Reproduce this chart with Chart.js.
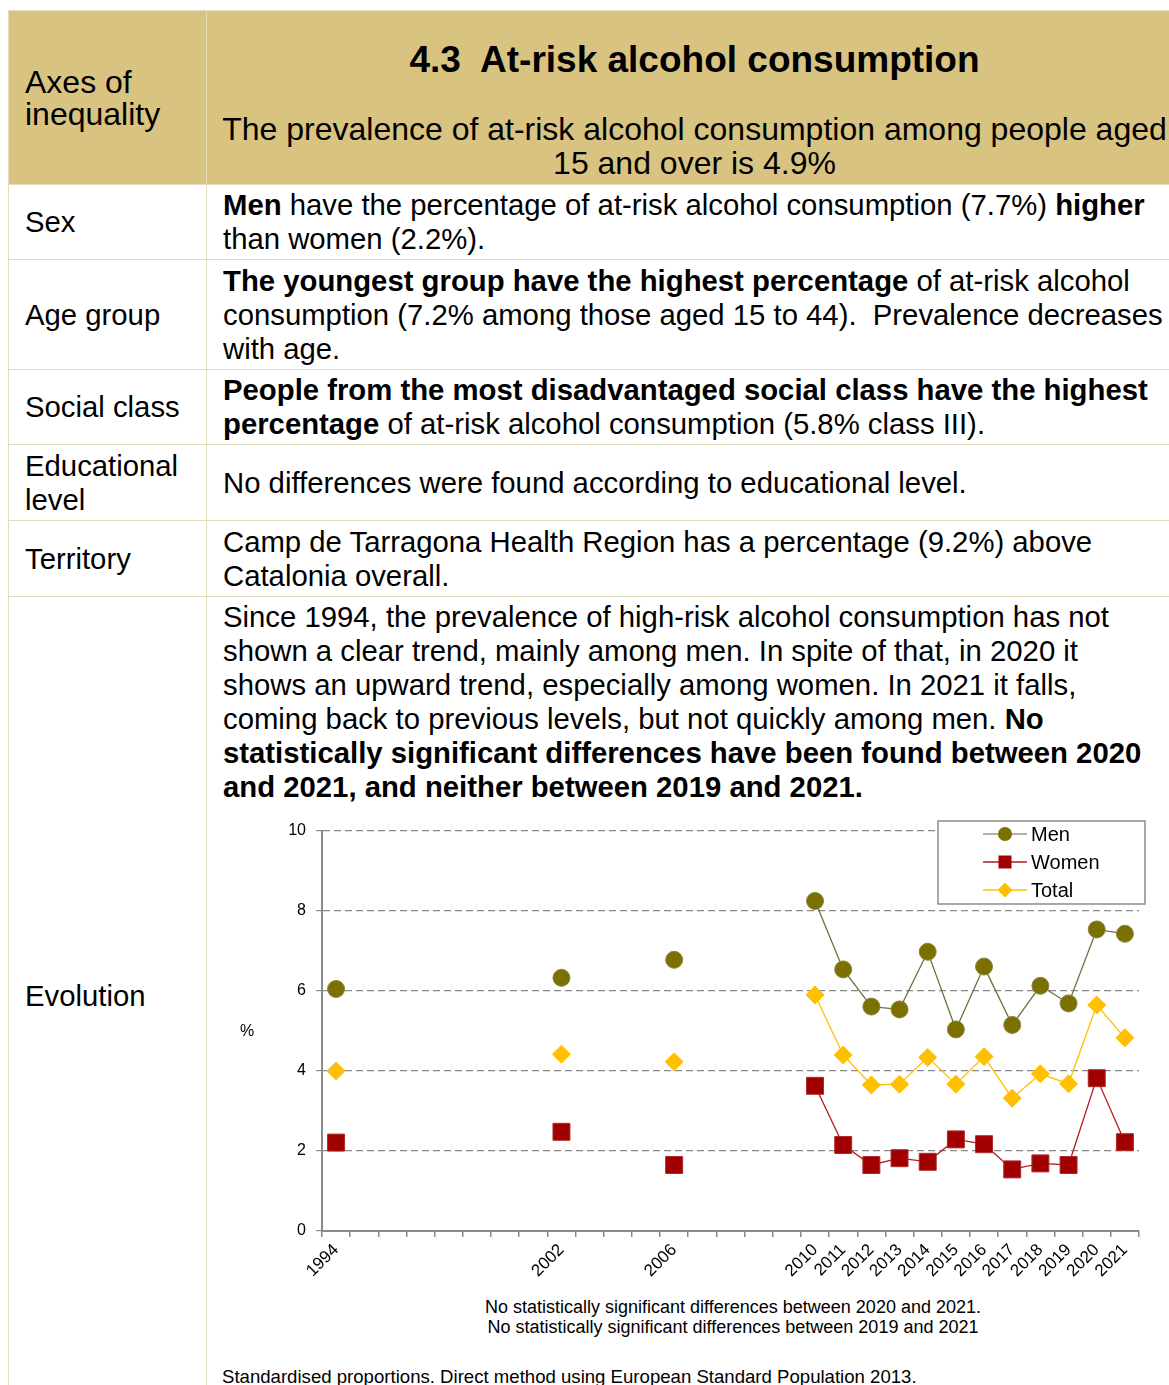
<!DOCTYPE html>
<html>
<head>
<meta charset="utf-8">
<title>4.3 At-risk alcohol consumption</title>
<script src="https://cdn.jsdelivr.net/npm/chart.js@4.4.1/dist/chart.umd.min.js"></script>
<style>
  html, body { margin: 0; padding: 0; background: #fff; }
  body { width: 1169px; height: 1385px; overflow: hidden; position: relative;
         font-family: 'Liberation Sans', Arial, sans-serif; color: #000; }
  table.sheet { position: absolute; left: 8px; top: 10px; width: 1174px;
                border-collapse: collapse; table-layout: fixed; }
  table.sheet td { border: 1px solid #E3DCBF; font-size: 29.3px; line-height: 34px;
                   white-space: nowrap; padding: 0 0 0 16px; vertical-align: middle; }
  table.sheet tr.head td { background: #D8C381; }
  table.sheet tr.head td.axes { font-size: 32px; line-height: 32px; }
  .title { font-weight: bold; font-size: 37px; line-height: 40px; height: 40px; margin-bottom: 32px; }
  .lead { font-size: 32px; line-height: 34px; }
  #chartBox { position: absolute; left: 222px; top: 805px; width: 940px; height: 490px; }
  .pct { position: absolute; left: 240px; top: 1022px; font-size: 16px; }
  .notes { position: absolute; left: 413px; top: 1297px; width: 640px; text-align: center;
           font-size: 18px; line-height: 20px; }
  .source { position: absolute; left: 222px; top: 1367px; font-size: 18.6px; line-height: 20px; white-space: nowrap; }
</style>
</head>
<body>
<table class="sheet">
  <colgroup><col style="width:198px"><col style="width:976px"></colgroup>
  <tr class="head" style="height:174px">
    <td class="axes">Axes of<br>inequality</td>
    <td style="vertical-align:top; padding:29px 0 0 0; text-align:center;">
      <div class="title">4.3&nbsp; At-risk alcohol consumption</div>
      <div class="lead">The prevalence of at-risk alcohol consumption among people aged<br>15 and over is 4.9%</div>
    </td>
  </tr>
  <tr style="height:75px">
    <td>Sex</td>
    <td><b>Men</b> have the percentage of at-risk alcohol consumption (7.7%) <b>higher</b><br>than women (2.2%).</td>
  </tr>
  <tr style="height:110px">
    <td>Age group</td>
    <td><b>The youngest group have the highest percentage</b> of at-risk alcohol<br>consumption (7.2% among those aged 15 to 44).&nbsp; Prevalence decreases<br>with age.</td>
  </tr>
  <tr style="height:75px">
    <td>Social class</td>
    <td><b>People from the most disadvantaged social class have the highest<br>percentage</b> of at-risk alcohol consumption (5.8% class III).</td>
  </tr>
  <tr style="height:76px">
    <td>Educational<br>level</td>
    <td>No differences were found according to educational level.</td>
  </tr>
  <tr style="height:76px">
    <td>Territory</td>
    <td>Camp de Tarragona Health Region has a percentage (9.2%) above<br>Catalonia overall.</td>
  </tr>
  <tr style="height:798px">
    <td>Evolution</td>
    <td style="vertical-align:top; padding-top:3px;">Since 1994, the prevalence of high-risk alcohol consumption has not<br>shown a clear trend, mainly among men. In spite of that, in 2020 it<br>shows an upward trend, especially among women. In 2021 it falls,<br>coming back to previous levels, but not quickly among men. <b>No<br>statistically significant differences have been found between 2020<br>and 2021, and neither between 2019 and 2021.</b></td>
  </tr>
</table>

<div id="chartBox"><canvas id="chart"></canvas></div>
<div class="pct">%</div>
<div class="notes">No statistically significant differences between 2020 and 2021.<br>No statistically significant differences between 2019 and 2021</div>
<div class="source">Standardised proportions. Direct method using European Standard Population 2013.</div>

<script>
// Category slots along the x axis (empty slots carry no survey wave)
const slots = ['1994', '', '', '', '', '', '', '', '2002', '', '', '', '2006', '', '', '', '',
               '2010', '2011', '2012', '2013', '2014', '2015', '2016', '2017', '2018', '2019', '2020', '2021'];

// Survey years with data
const years = ['1994', '2002', '2006', '2010', '2011', '2012', '2013', '2014', '2015', '2016', '2017', '2018', '2019', '2020', '2021'];

// Standardised prevalence of at-risk alcohol consumption (%)
const men   = [6.05, 6.33, 6.78, 8.25, 6.54, 5.61, 5.54, 6.98, 5.04, 6.61, 5.15, 6.13, 5.69, 7.54, 7.43];
const women = [2.21, 2.48, 1.65, 3.63, 2.15, 1.65, 1.82, 1.73, 2.29, 2.17, 1.54, 1.69, 1.65, 3.82, 2.22];
const total = [4.00, 4.42, 4.23, 5.90, 4.40, 3.65, 3.67, 4.34, 3.67, 4.36, 3.32, 3.93, 3.68, 5.65, 4.83];

const yTicks = [0, 2, 4, 6, 8, 10];

// Spread a per-year series over the category slots (gaps stay empty)
function toSlots(values) {
  return slots.map(s => {
    const i = years.indexOf(s);
    return (s !== '' && i >= 0) ? values[i] : null;
  });
}

Chart.defaults.font.family = "'Liberation Sans', Arial, sans-serif";
Chart.defaults.color = '#000';

// Boxed legend drawn inside the top-right corner of the plot
const boxedLegend = {
  id: 'boxedLegend',
  afterDraw(chart) {
    const { ctx, chartArea } = chart;
    const w = 207, h = 83;
    const x0 = chartArea.right + 6 - w;
    const y0 = chartArea.top - 10;
    ctx.save();
    ctx.fillStyle = '#fff';
    ctx.fillRect(x0, y0, w, h);
    ctx.strokeStyle = '#8a8a8a';
    ctx.lineWidth = 1.5;
    ctx.strokeRect(x0, y0, w, h);
    chart.data.datasets.forEach((ds, i) => {
      const cy = y0 + 13 + i * 28;
      const cx = x0 + 67;
      ctx.strokeStyle = ds.legendLine;
      ctx.lineWidth = 1.5;
      ctx.beginPath();
      ctx.moveTo(x0 + 45, cy);
      ctx.lineTo(x0 + 89, cy);
      ctx.stroke();
      ctx.fillStyle = ds.pointBackgroundColor;
      ctx.beginPath();
      if (ds.pointStyle === 'circle') {
        ctx.arc(cx, cy, 7, 0, Math.PI * 2);
      } else if (ds.pointStyle === 'rect') {
        ctx.rect(cx - 6.5, cy - 6.5, 13, 13);
      } else {
        ctx.moveTo(cx, cy - 7.5); ctx.lineTo(cx + 7.5, cy);
        ctx.lineTo(cx, cy + 7.5); ctx.lineTo(cx - 7.5, cy);
        ctx.closePath();
      }
      ctx.fill();
      ctx.fillStyle = '#000';
      ctx.font = "20px 'Liberation Sans', Arial, sans-serif";
      ctx.textBaseline = 'middle';
      ctx.textAlign = 'left';
      ctx.fillText(ds.label, x0 + 93, cy + 1);
    });
    ctx.restore();
  }
};

new Chart(document.getElementById('chart'), {
  type: 'line',
  data: {
    labels: slots,
    datasets: [
      {
        label: 'Men',
        data: toSlots(men),
        borderColor: '#66743A',
        legendLine: '#94A07A',
        borderWidth: 1.3,
        pointStyle: 'circle',
        pointRadius: 8.5,
        pointBackgroundColor: '#7A7100',
        pointBorderColor: '#8E8245',
        pointBorderWidth: 1
      },
      {
        label: 'Women',
        data: toSlots(women),
        borderColor: '#B01E22',
        legendLine: '#B01E22',
        borderWidth: 1.3,
        pointStyle: 'rect',
        pointRadius: 12,
        pointBackgroundColor: '#A00000',
        pointBorderColor: '#B02A2A',
        pointBorderWidth: 1
      },
      {
        label: 'Total',
        data: toSlots(total),
        borderColor: '#FFC000',
        legendLine: '#FFC000',
        borderWidth: 1.3,
        pointStyle: 'rectRot',
        pointRadius: 9,
        pointBackgroundColor: '#FFC000',
        pointBorderColor: '#FFC000',
        pointBorderWidth: 1
      }
    ]
  },
  options: {
    responsive: true,
    maintainAspectRatio: false,
    animation: false,
    spanGaps: false,
    layout: { padding: { top: 26, right: 23, left: 0, bottom: 0 } },
    plugins: {
      legend: { display: false },
      tooltip: { enabled: false }
    },
    elements: { line: { tension: 0 } },
    scales: {
      x: {
        type: 'category',
        offset: true,
        afterFit(scale) { scale.height = 64; },
        grid: {
          offset: true,
          drawOnChartArea: false,
          drawTicks: true,
          tickLength: 6,
          color: '#8a8a8a',
          lineWidth: 1.5
        },
        border: { display: true, color: '#8a8a8a', width: 2 },
        ticks: {
          autoSkip: false,
          maxRotation: 45,
          minRotation: 45,
          padding: 3,
          font: { size: 17 },
          color: '#000',
          callback: (v, i) => slots[i]
        }
      },
      y: {
        min: 0,
        max: 10,
        afterFit(scale) { scale.width = 100; },
        afterBuildTicks(scale) { scale.ticks = yTicks.map(v => ({ value: v })); },
        grid: {
          color: '#8a8a8a',
          lineWidth: 1.2,
          tickLength: 6,
          tickColor: '#8a8a8a',
          tickBorderDash: [],
          drawTicks: true
        },
        border: { display: true, color: '#8a8a8a', width: 2, dash: [7, 4] },
        ticks: {
          padding: 10,
          font: { size: 16 },
          color: '#000'
        }
      }
    }
  },
  plugins: [boxedLegend]
});
</script>
</body>
</html>
